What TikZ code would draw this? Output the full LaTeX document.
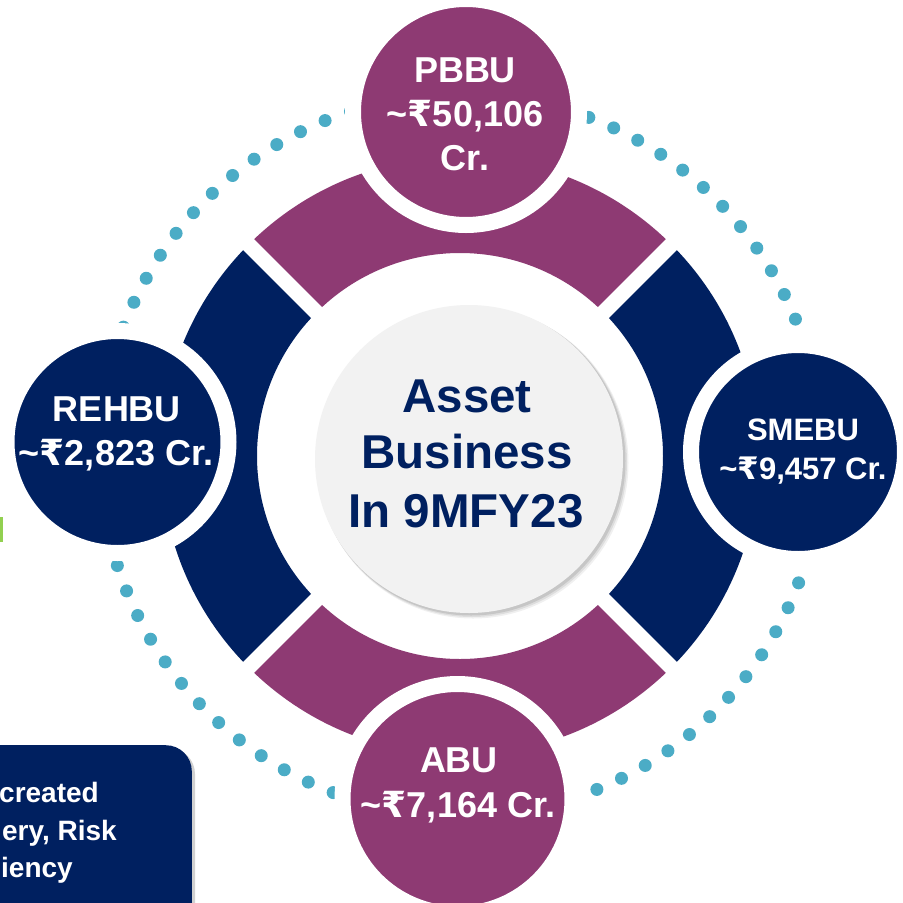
\documentclass[tikz,border=0pt]{standalone}
\usepackage{fontspec}
\setmainfont{Liberation Sans}
\newfontfamily\rupfont{DejaVu Sans}
\definecolor{pbpurple}{RGB}{142,58,115}
\definecolor{navyblue}{RGB}{0,32,96}
\definecolor{dotteal}{RGB}{75,172,198}
\definecolor{coregrey}{RGB}{242,242,242}
\definecolor{lgreen}{RGB}{146,208,80}
\newcommand{\rsym}{{\rupfont\bfseries ₹}}
\begin{document}
\begin{tikzpicture}[x=1pt,y=1pt,
  satnode/.style={circle, inner sep=0pt, draw=white, line width=16},
  sattext/.style={text=white, font=\bfseries\fontsize{36}{44}\selectfont, anchor=base, inner sep=0pt},
  smalltext/.style={text=white, font=\bfseries\fontsize{31}{39}\selectfont, anchor=base, inner sep=0pt},
  coretext/.style={text=navyblue, font=\bfseries\fontsize{47.5}{57}\selectfont, anchor=base, inner sep=0pt},
  boxtext/.style={text=white, font=\bfseries\fontsize{28}{38}\selectfont, anchor=base east, inner sep=0pt}]
\clip (0,0) rectangle (903,-903);
\fill[white] (0,0) rectangle (903,-903);
% dotted ring
\foreach \k in {0,...,83}{
  \pgfmathsetmacro{\a}{-3.6+\k*4.285714}
  \fill[dotteal] (461,-455) ++(\a:361) circle (6.5);
}
% segmented ring
\begin{scope}[shift={(460,-456)}]
  \fill[pbpurple] (45:299) arc[start angle=45,end angle=135,radius=299] -- (135:203) arc[start angle=135,end angle=45,radius=203] -- cycle;
  \fill[navyblue] (135:299) arc[start angle=135,end angle=225,radius=299] -- (225:203) arc[start angle=225,end angle=135,radius=203] -- cycle;
  \fill[pbpurple] (225:299) arc[start angle=225,end angle=315,radius=299] -- (315:203) arc[start angle=315,end angle=225,radius=203] -- cycle;
  \fill[navyblue] (-45:299) arc[start angle=-45,end angle=45,radius=299] -- (45:203) arc[start angle=45,end angle=-45,radius=203] -- cycle;
  \draw[white, line width=15.5] (45:312) -- (225:312) (135:312) -- (315:312);
\end{scope}
% centre circle with soft shadow
\fill[black, opacity=0.06] (473,-463) circle (155.5);
\fill[black, opacity=0.08] (472,-462) circle (155);
\fill[black, opacity=0.10] (471,-461) circle (154.5);
\node[circle, inner sep=0pt, fill=coregrey, minimum size=308] (core) at (469,-459) {};
\node[coretext] (core1) at (467,-412) {Asset};
\node[coretext] (core2) at (467,-468) {Business};
\node[coretext] (core3) at (466,-527) {In 9MFY23};
% satellites
\node[satnode, fill=pbpurple, minimum size=226] (pbbu) at (466,-112) {};
\node[satnode, fill=navyblue, minimum size=222] (rehbu) at (117.5,-442) {};
\node[satnode, fill=navyblue, minimum size=214] (smebu) at (798,-452) {};
\node[satnode, fill=pbpurple, minimum size=230] (abu) at (457.5,-799) {};
\node[sattext] (pbbu1) at (465,-82) {PBBU};
\node[sattext] (pbbu2) at (465,-126) {\textasciitilde\rsym50,106};
\node[sattext] (pbbu3) at (465,-170) {Cr.};
\node[sattext] (rehbu1) at (117,-421) {REHBU};
\node[sattext] (rehbu2) at (116,-465) {\textasciitilde\rsym2,823 Cr.};
\node[smalltext] (smebu1) at (803,-440) {SMEBU};
\node[smalltext] (smebu2) at (803,-479) {\textasciitilde\rsym9,457 Cr.};
\node[sattext] (abu1) at (459,-772) {ABU};
\node[sattext] (abu2) at (458,-817) {\textasciitilde\rsym7,164 Cr.};
% partial box bottom-left
\fill[black, opacity=0.18, rounded corners=26] (-40,-748) rectangle (195,-945);
\node[fill=navyblue, rounded corners=26, minimum width=232, minimum height=200, inner sep=0pt, anchor=north east] (box) at (192,-745) {};
\node[boxtext] (box1) at (99,-802) {created};
\node[boxtext] (box2) at (117,-840) {ery, Risk};
\node[boxtext] (box3) at (73,-877) {iency};
% partial green mark
\fill[lgreen] (0,-517) rectangle (3,-542);
\end{tikzpicture}
\end{document}
